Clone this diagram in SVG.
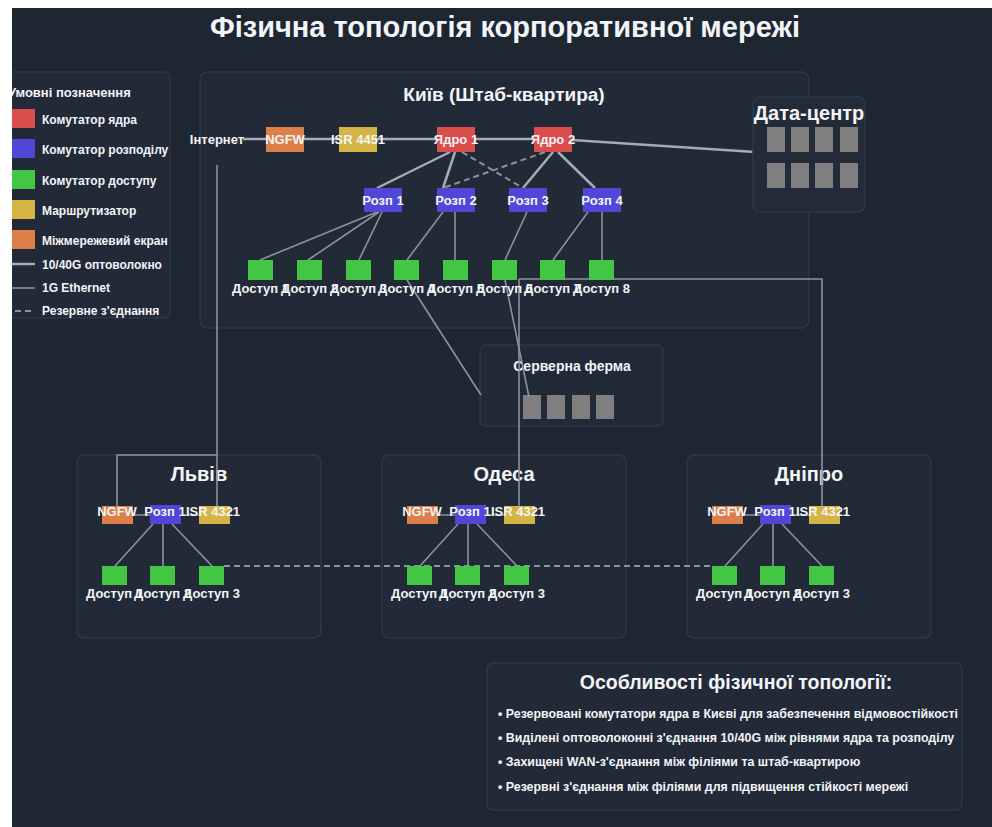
<svg xmlns="http://www.w3.org/2000/svg" width="992" height="827" viewBox="0 0 992 827">
<style>
text{font-family:"Liberation Sans",Arial,sans-serif;font-weight:bold;fill:#f2f4f7}
.t{font-size:29px}
.h{font-size:19px}
.hb{font-size:20px}
.n{font-size:13px;text-anchor:middle}
.c{text-anchor:middle}
.lg{font-size:12px}
.box{fill:#212a36;stroke:#2e3946;stroke-width:1.5}
.core{fill:#db4c4c}
.dist{fill:#5046d8}
.acc{fill:#43c643}
.rtr{fill:#d5b445}
.fw{fill:#dc7f48}
.srv{fill:#7f7f7f}
.fib{stroke:#a3adb8;stroke-width:2.5;fill:none}
.eth{stroke:#8a949e;stroke-width:1.6;fill:none}
.res{stroke:#8a949e;stroke-width:2;stroke-dasharray:6,4;fill:none}
</style>
<rect x="0" y="0" width="992" height="827" fill="#1d2631"/>

<!-- legend -->
<g id="legend">
<rect class="box" x="-20" y="72" width="190" height="246" rx="6"/>
<text x="8" y="97" style="font-size:13px">Умовні позначення</text>
<rect class="core" x="5" y="109" width="30" height="19"/><text class="lg" x="42" y="124">Комутатор ядра</text>
<rect class="dist" x="5" y="139" width="30" height="19"/><text class="lg" x="42" y="154">Комутатор розподілу</text>
<rect class="acc" x="5" y="170" width="30" height="19"/><text class="lg" x="42" y="185">Комутатор доступу</text>
<rect class="rtr" x="5" y="200" width="30" height="19"/><text class="lg" x="42" y="215">Маршрутизатор</text>
<rect class="fw" x="5" y="230" width="30" height="19"/><text class="lg" x="42" y="245">Міжмережевий екран</text>
<line class="fib" x1="5" y1="264" x2="35" y2="264"/><text class="lg" x="42" y="269">10/40G оптоволокно</text>
<line class="eth" x1="5" y1="288" x2="35" y2="288"/><text class="lg" x="42" y="292">1G Ethernet</text>
<line class="res" x1="5" y1="311" x2="35" y2="311"/><text class="lg" x="42" y="315">Резервне з'єднання</text>
</g>

<!-- containers -->
<g id="kyiv-box"><rect class="box" x="200" y="72" width="609" height="256" rx="7"/>
<text class="h c" x="504" y="101">Київ (Штаб-квартира)</text></g>
<g id="lviv-box"><rect class="box" x="77" y="455" width="244" height="183" rx="7"/><text class="hb c" x="199" y="481">Львів</text></g>
<g id="odesa-box"><rect class="box" x="382" y="455" width="244" height="183" rx="7"/><text class="hb c" x="504" y="481">Одеса</text></g>
<g id="dnipro-box"><rect class="box" x="687" y="455" width="244" height="183" rx="7"/><text class="hb c" x="809" y="481">Дніпро</text></g>
<g id="serverfarm"><rect class="box" x="480" y="345" width="183" height="81" rx="6"/>
<text class="c" x="572" y="371" style="font-size:14px">Серверна ферма</text>
<rect class="srv" x="523" y="395" width="18" height="24"/><rect class="srv" x="547" y="395" width="18" height="24"/><rect class="srv" x="572" y="395" width="18" height="24"/><rect class="srv" x="596" y="395" width="18" height="24"/></g>

<!-- connectors -->
<g id="connectors">
<path class="fib" d="M243 139 H553"/>
<path class="fib" d="M572 140 L755 152"/>
<path class="fib" d="M450 152 L377 188"/>
<path class="fib" d="M455 152 L443 188"/>
<path class="fib" d="M553 152 L523 188"/>
<path class="fib" d="M558 152 L595 188"/>
<path class="res" d="M462 152 L523 188"/>
<path class="res" d="M545 152 L443 188"/>
<path class="eth" d="M377 212 L260 260"/>
<path class="eth" d="M379 212 L308 260"/>
<path class="eth" d="M382 212 L359 260"/>
<path class="eth" d="M443 212 L407 260"/>
<path class="eth" d="M455 212 V260"/>
<path class="eth" d="M527 212 L505 260"/>
<path class="eth" d="M588 212 L553 260"/>
<path class="eth" d="M602 212 V260"/>
<path class="eth" d="M407 280 L481 395"/>
<path class="eth" d="M505 280 L529 397"/>
<path class="eth" d="M217 165 V506"/>
<path class="eth" d="M217 455 H117 V506"/>
<path class="eth" d="M519 279 V506"/>
<path class="eth" d="M519 279 H822 V506"/>
<path class="eth" d="M133 515 H199"/>
<path class="eth" d="M438 515 H504"/>
<path class="eth" d="M743 515 H809"/>
<path class="eth" d="M153 524 L115 566 M163 524 V566 M172 524 L212 566"/>
<path class="eth" d="M458 524 L420 566 M468 524 V566 M477 524 L517 566"/>
<path class="eth" d="M763 524 L725 566 M773 524 V566 M782 524 L822 566"/>
<path class="res" d="M224 566 H711"/>
</g>

<!-- Kyiv nodes -->
<g id="internet"><text class="n" x="217" y="144">Інтернет</text></g>
<g id="kyiv-ngfw"><rect class="fw" x="266" y="127" width="38" height="25"/><text class="n" x="285" y="144">NGFW</text></g>
<g id="kyiv-isr"><rect class="rtr" x="339" y="127" width="38" height="25"/><text class="n" x="358" y="144">ISR 4451</text></g>
<g id="core1"><rect class="core" x="437" y="127" width="38" height="25"/><text class="n" x="456" y="144">Ядро 1</text></g>
<g id="core2"><rect class="core" x="534" y="127" width="38" height="25"/><text class="n" x="553" y="144">Ядро 2</text></g>
<g id="dist1"><rect class="dist" x="364" y="188" width="38" height="24"/><text class="n" x="383" y="205">Розп 1</text></g>
<g id="dist2"><rect class="dist" x="437" y="188" width="38" height="24"/><text class="n" x="456" y="205">Розп 2</text></g>
<g id="dist3"><rect class="dist" x="509" y="188" width="38" height="24"/><text class="n" x="528" y="205">Розп 3</text></g>
<g id="dist4"><rect class="dist" x="583" y="188" width="38" height="24"/><text class="n" x="602" y="205">Розп 4</text></g>
<g id="acc1"><rect class="acc" x="248" y="260" width="25" height="20"/><text class="n" x="260.5" y="293">Доступ 1</text></g>
<g id="acc2"><rect class="acc" x="297" y="260" width="25" height="20"/><text class="n" x="309.5" y="293">Доступ 2</text></g>
<g id="acc3"><rect class="acc" x="346" y="260" width="25" height="20"/><text class="n" x="358.5" y="293">Доступ 3</text></g>
<g id="acc4"><rect class="acc" x="394" y="260" width="25" height="20"/><text class="n" x="406.5" y="293">Доступ 4</text></g>
<g id="acc5"><rect class="acc" x="443" y="260" width="25" height="20"/><text class="n" x="455.5" y="293">Доступ 5</text></g>
<g id="acc6"><rect class="acc" x="492" y="260" width="25" height="20"/><text class="n" x="504.5" y="293">Доступ 6</text></g>
<g id="acc7"><rect class="acc" x="540" y="260" width="25" height="20"/><text class="n" x="552.5" y="293">Доступ 7</text></g>
<g id="acc8"><rect class="acc" x="589" y="260" width="25" height="20"/><text class="n" x="601.5" y="293">Доступ 8</text></g>

<g id="datacenter"><rect class="box" x="753" y="97" width="112" height="115" rx="7" style="fill:#222b37"/>
<text class="hb c" x="809" y="120">Дата-центр</text>
<rect class="srv" x="767" y="127" width="18" height="25"/><rect class="srv" x="791" y="127" width="18" height="25"/><rect class="srv" x="815" y="127" width="18" height="25"/><rect class="srv" x="840" y="127" width="18" height="25"/>
<rect class="srv" x="767" y="163" width="18" height="25"/><rect class="srv" x="791" y="163" width="18" height="25"/><rect class="srv" x="815" y="163" width="18" height="25"/><rect class="srv" x="840" y="163" width="18" height="25"/></g>

<!-- Lviv nodes -->
<g id="lviv-ngfw"><rect class="fw" x="102" y="506" width="31" height="18"/><text class="n" x="117" y="516">NGFW</text></g>
<g id="lviv-dist"><rect class="dist" x="150" y="505" width="31" height="19"/><text class="n" x="165" y="516">Розп 1</text></g>
<g id="lviv-isr"><rect class="rtr" x="199" y="506" width="31" height="18"/><text class="n" x="213" y="516">ISR 4321</text></g>
<g id="lviv-acc1"><rect class="acc" x="102" y="566" width="25" height="19"/><text class="n" x="114.5" y="598">Доступ 1</text></g>
<g id="lviv-acc2"><rect class="acc" x="150" y="566" width="25" height="19"/><text class="n" x="162.5" y="598">Доступ 2</text></g>
<g id="lviv-acc3"><rect class="acc" x="199" y="566" width="25" height="19"/><text class="n" x="211.5" y="598">Доступ 3</text></g>

<!-- Odesa nodes -->
<g id="odesa-ngfw"><rect class="fw" x="407" y="506" width="31" height="18"/><text class="n" x="422" y="516">NGFW</text></g>
<g id="odesa-dist"><rect class="dist" x="455" y="505" width="31" height="19"/><text class="n" x="470" y="516">Розп 1</text></g>
<g id="odesa-isr"><rect class="rtr" x="504" y="506" width="31" height="18"/><text class="n" x="518" y="516">ISR 4321</text></g>
<g id="odesa-acc1"><rect class="acc" x="407" y="566" width="25" height="19"/><text class="n" x="419.5" y="598">Доступ 1</text></g>
<g id="odesa-acc2"><rect class="acc" x="455" y="566" width="25" height="19"/><text class="n" x="467.5" y="598">Доступ 2</text></g>
<g id="odesa-acc3"><rect class="acc" x="504" y="566" width="25" height="19"/><text class="n" x="516.5" y="598">Доступ 3</text></g>

<!-- Dnipro nodes -->
<g id="dnipro-ngfw"><rect class="fw" x="712" y="506" width="31" height="18"/><text class="n" x="727" y="516">NGFW</text></g>
<g id="dnipro-dist"><rect class="dist" x="760" y="505" width="31" height="19"/><text class="n" x="775" y="516">Розп 1</text></g>
<g id="dnipro-isr"><rect class="rtr" x="809" y="506" width="31" height="18"/><text class="n" x="823" y="516">ISR 4321</text></g>
<g id="dnipro-acc1"><rect class="acc" x="712" y="566" width="25" height="19"/><text class="n" x="724.5" y="598">Доступ 1</text></g>
<g id="dnipro-acc2"><rect class="acc" x="760" y="566" width="25" height="19"/><text class="n" x="772.5" y="598">Доступ 2</text></g>
<g id="dnipro-acc3"><rect class="acc" x="809" y="566" width="25" height="19"/><text class="n" x="821.5" y="598">Доступ 3</text></g>

<!-- features -->
<g id="features"><rect class="box" x="487" y="663" width="475" height="147" rx="6"/>
<text class="c" x="736" y="689" style="font-size:19.5px">Особливості фізичної топології:</text>
<g style="font-size:12.4px"><text x="498" y="718">• Резервовані комутатори ядра в Києві для забезпечення відмовостійкості</text>
<text x="498" y="742">• Виділені оптоволоконні з'єднання 10/40G між рівнями ядра та розподілу</text>
<text x="498" y="766">• Захищені WAN-з'єднання між філіями та штаб-квартирою</text>
<text x="498" y="791">• Резервні з'єднання між філіями для підвищення стійкості мережі</text></g></g>

<g id="title"><text class="t c" x="505" y="37">Фізична топологія корпоративної мережі</text></g>

<rect x="0" y="0" width="992" height="8" fill="#ffffff"/>
<rect x="0" y="0" width="12" height="827" fill="#ffffff"/>
</svg>
